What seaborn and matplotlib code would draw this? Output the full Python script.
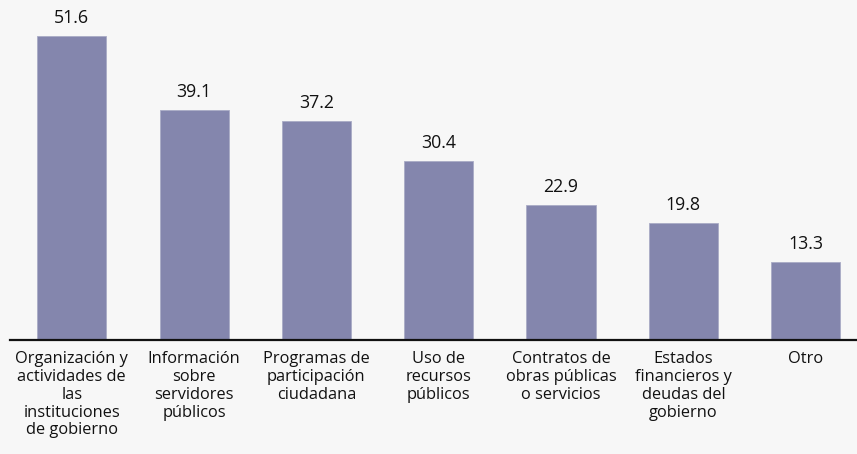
import matplotlib
matplotlib.use("Agg")
import matplotlib.pyplot as plt
import seaborn as sns
import pandas as pd

categories = [
    "Organización y\nactividades de\nlas\ninstituciones\nde gobierno",
    "Información\nsobre\nservidores\npúblicos",
    "Programas de\nparticipación\nciudadana",
    "Uso de\nrecursos\npúblicos",
    "Contratos de\nobras públicas\no servicios",
    "Estados\nfinancieros y\ndeudas del\ngobierno",
    "Otro",
]
values = [51.6, 39.1, 37.2, 30.4, 22.9, 19.8, 13.3]

df = pd.DataFrame({"categoria": categories, "valor": values})

sns.set_style("white")
plt.rcParams["font.family"] = ["Open Sans", "DejaVu Sans"]

bg = "#f7f7f7"
bar_color = "#8486ad"

fig = plt.figure(figsize=(8.57, 4.54), dpi=100, facecolor=bg)
ax = fig.add_axes([10 / 857, 114 / 454, 847 / 857, 340 / 454])
ax.set_facecolor(bg)

sns.barplot(data=df, x="categoria", y="valor", color=bar_color, width=0.565,
            saturation=1, edgecolor="#a9abc6", linewidth=0.6, ax=ax)

for i, v in enumerate(values):
    ax.text(i, v + 1.5, f"{v:.1f}", ha="center", va="bottom", fontsize=12.8, color="#111111")

ax.set_xlim(-0.505, 6.42)
ax.set_ylim(0, 57.7)
ax.set_xlabel("")
ax.set_ylabel("")
ax.set_yticks([])
ax.tick_params(axis="x", length=0, pad=8, labelsize=11.8, colors="#111111")
for lbl in ax.get_xticklabels():
    lbl.set_linespacing(1.15)
for side in ["top", "right", "left"]:
    ax.spines[side].set_visible(False)
ax.spines["bottom"].set_color("#111111")
ax.spines["bottom"].set_linewidth(1.6)

fig.savefig("out.png", dpi=100, facecolor=bg)
